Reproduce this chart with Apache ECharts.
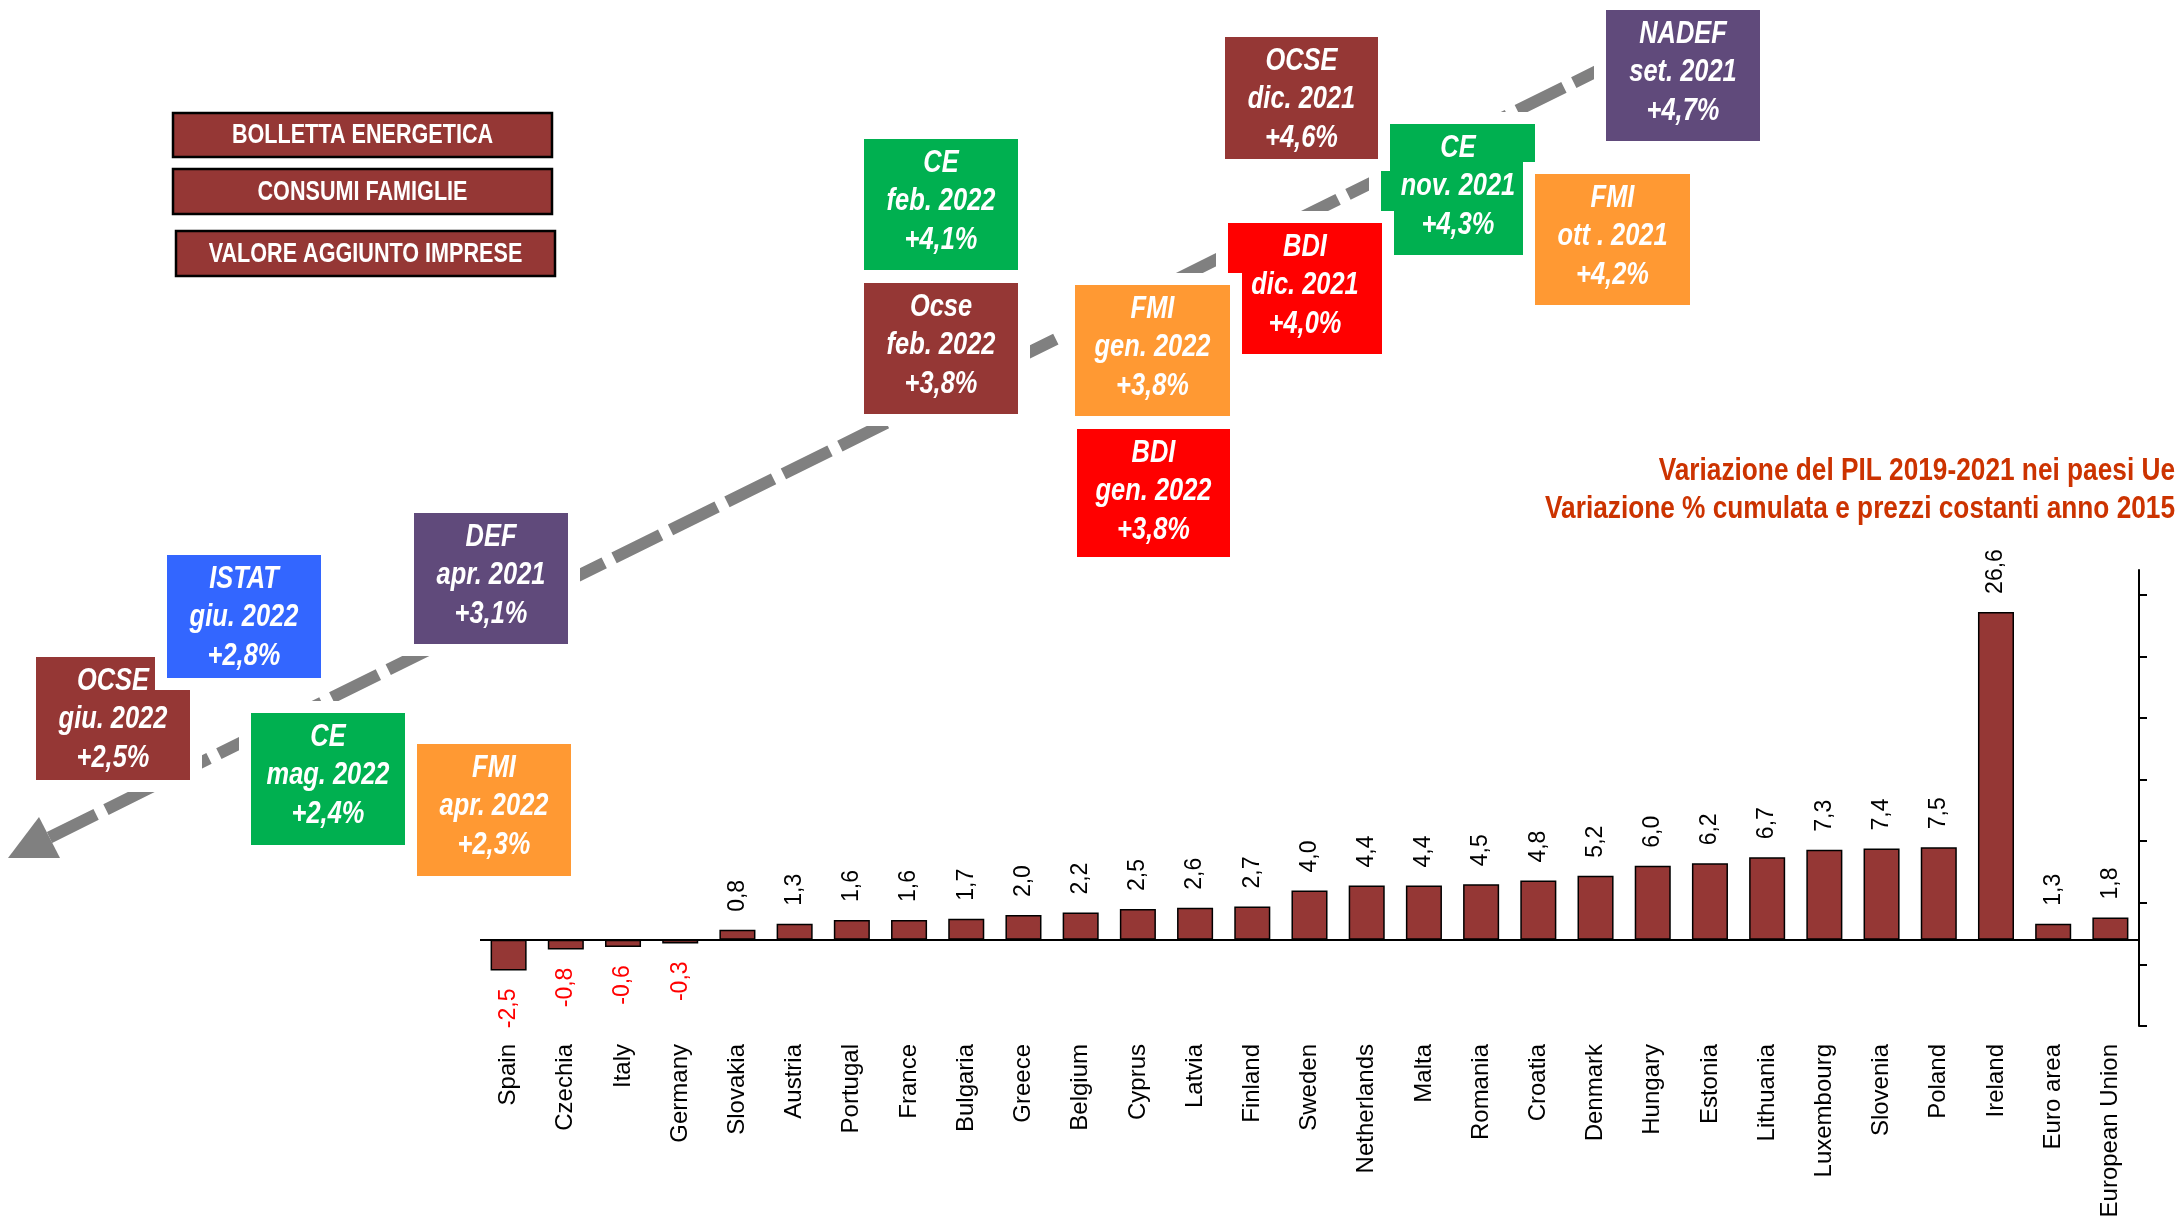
<!DOCTYPE html>
<html>
<head>
<meta charset="utf-8">
<title>Variazione del PIL 2019-2021 nei paesi Ue</title>
<script src="https://cdn.jsdelivr.net/npm/echarts@6/dist/echarts.min.js"></script>
<style>
    html, body { margin: 0; padding: 0; background: #ffffff; }
    #chart { width: 2179px; height: 1221px; }
</style>
</head>
<body>
<div id="chart"></div>
<script>
// ============================================
// Dati
// ============================================
const countries = [
    'Spain', 'Czechia', 'Italy', 'Germany', 'Slovakia', 'Austria', 'Portugal', 'France',
    'Bulgaria', 'Greece', 'Belgium', 'Cyprus', 'Latvia', 'Finland', 'Sweden', 'Netherlands',
    'Malta', 'Romania', 'Croatia', 'Denmark', 'Hungary', 'Estonia', 'Lithuania', 'Luxembourg',
    'Slovenia', 'Poland', 'Ireland', 'Euro area', 'European Union'
];
const gdpChange = [
    -2.5, -0.8, -0.6, -0.3, 0.8, 1.3, 1.6, 1.6,
    1.7, 2.0, 2.2, 2.5, 2.6, 2.7, 4.0, 4.4,
    4.4, 4.5, 4.8, 5.2, 6.0, 6.2, 6.7, 7.3,
    7.4, 7.5, 26.6, 1.3, 1.8
];
// tacche dell'asse di destra (senza etichette)
const rightTicks = [-7, -2, 3, 8, 13, 18, 23, 28];

const titleLines = [
    'Variazione del PIL 2019-2021 nei paesi Ue',
    'Variazione % cumulata e prezzi costanti anno 2015'
];
const legendLabels = ['BOLLETTA ENERGETICA', 'CONSUMI FAMIGLIE', 'VALORE AGGIUNTO IMPRESE'];

// previsioni di crescita (in ordine di disegno)
const fcSources = ['OCSE', 'ISTAT', 'CE', 'FMI', 'DEF', 'CE', 'Ocse', 'CE', 'BDI', 'FMI', 'BDI', 'OCSE', 'FMI', 'NADEF'];
const fcDates = ['giu. 2022', 'giu. 2022', 'mag. 2022', 'apr. 2022', 'apr. 2021', 'feb. 2022', 'feb. 2022',
    'nov. 2021', 'dic. 2021', 'gen. 2022', 'gen. 2022', 'dic. 2021', 'ott . 2021', 'set. 2021'];
const fcValues = [2.5, 2.8, 2.4, 2.3, 3.1, 4.1, 3.8, 4.3, 4.0, 3.8, 3.8, 4.6, 4.2, 4.7];

// ============================================
// Layout e stili
// ============================================
const BROWN = '#953735', BLUE = '#3366FF', GREEN = '#00B050', ORANGE = '#FF9933', RED = '#FF0000', PURPLE = '#604A7B';
const fcColors = [BROWN, BLUE, GREEN, ORANGE, PURPLE, GREEN, BROWN, GREEN, RED, ORANGE, RED, BROWN, ORANGE, PURPLE];
const fcBoxes = [
    [36, 657, 154, 123], [167, 555, 154, 123], [251, 713, 154, 132], [417, 744, 154, 132],
    [414, 513, 154, 131], [864, 139, 154, 131], [864, 283, 154, 131], [1381, 124, 154, 131],
    [1228, 223, 154, 131], [1075, 285, 155, 131], [1077, 429, 153, 128], [1225, 37, 153, 122],
    [1535, 174, 155, 131], [1606, 10, 154, 131]
];
const legendBoxes = [[173, 113, 379, 44], [173, 169, 379, 45], [176, 231, 379, 45]];
const FONT = "'Liberation Sans', Arial, sans-serif";
const NARROW = 0.82;   // simula Arial Narrow

// se c'è la versione Narrow la usiamo per le etichette degli assi
function hasFont(name) {
    const ctx = document.createElement('canvas').getContext('2d');
    const probe = 'European Union 26,6';
    ctx.font = '40px monospace';
    const a = ctx.measureText(probe).width;
    ctx.font = `40px '${name}', monospace`;
    return ctx.measureText(probe).width !== a;
}
const narrowOK = hasFont('Liberation Sans Narrow');
const axisFont = narrowOK
    ? { family: "'Liberation Sans Narrow', " + FONT, cat: 29, val: 28 }
    : { family: FONT, cat: 24, val: 23 };

function fmt(v) {
    return v.toFixed(1).replace('.', ',');
}

// ============================================
// Elementi grafici (freccia, riquadri, titolo)
// ============================================
const graphics = [];
let zi = 10;

function addText(text, x, y, opts) {
    graphics.push({
        type: 'text', x: x, y: y, z: zi++,
        scaleX: opts.scaleX || NARROW,
        style: {
            text: text,
            fill: opts.color || '#ffffff',
            font: opts.font,
            align: opts.align || 'center', textAlign: opts.align || 'center',
            verticalAlign: 'middle', textVerticalAlign: 'middle'
        }
    });
}

// freccia tratteggiata
graphics.push({
    type: 'line', z: 5,
    shape: { x1: 49.5, y1: 837.5, x2: 1700, y2: 20 },
    style: { stroke: '#808080', lineWidth: 12, lineDash: [52, 11], lineCap: 'butt' }
});
graphics.push({
    type: 'polygon', z: 5,
    shape: { points: [[8, 858], [60, 858], [39, 817]] },
    style: { fill: '#808080' }
});

// riquadri previsioni: margine bianco + box colorato + tre righe
fcBoxes.forEach((b, i) => {
    const [x, y, w, h] = b;
    graphics.push({
        type: 'rect', z: zi++,
        shape: { x: x - 12, y: y - 12, width: w + 24, height: h + 24 },
        style: { fill: '#ffffff' }
    });
    graphics.push({
        type: 'rect', z: zi++,
        shape: { x: x, y: y, width: w, height: h },
        style: { fill: fcColors[i] }
    });
    const cx = x + w / 2, cy = y + 62.5;
    const f = `italic bold 31px ${FONT}`;
    addText(fcSources[i], cx, cy - 38.5, { font: f });
    addText(fcDates[i], cx, cy, { font: f });
    addText('+' + fmt(fcValues[i]) + '%', cx, cy + 38.5, { font: f });
});

// riquadri legenda
legendBoxes.forEach((b, i) => {
    const [x, y, w, h] = b;
    graphics.push({
        type: 'rect', z: zi++,
        shape: { x: x, y: y, width: w, height: h },
        style: { fill: BROWN, stroke: '#000000', lineWidth: 2.5 }
    });
    addText(legendLabels[i], x + w / 2, y + h / 2 + 1, { font: `bold 27px ${FONT}`, scaleX: 0.8 });
});

// titolo
titleLines.forEach((t, i) => {
    addText(t, 2175, 471 + i * 38.5, { font: `bold 32px ${FONT}`, color: '#CC3300', align: 'right' });
});

// ============================================
// Grafico a barre
// ============================================
const barData = gdpChange.map(v => {
    if (v < 0) {
        return { value: v, label: { position: 'bottom', align: 'right', color: '#FF0000' } };
    }
    return { value: v, label: { position: 'top', align: 'left', color: '#000000' } };
});

const chart = echarts.init(document.getElementById('chart'), null, { renderer: 'canvas' });
const option = {
    animation: false,
    backgroundColor: '#ffffff',
    grid: { left: 480, right: 40, top: 570, height: 456, containLabel: false },
    xAxis: {
        type: 'category',
        data: countries,
        axisLine: { show: false, onZero: false },
        axisTick: { show: false },
        axisLabel: {
            interval: 0,
            rotate: 90,
            margin: 18,
            color: '#000000',
            fontSize: axisFont.cat,
            fontFamily: axisFont.family
        }
    },
    yAxis: {
        type: 'value',
        position: 'right',
        min: -7,
        max: 30,
        axisLine: { show: true, lineStyle: { color: '#000000', width: 2 } },
        axisTick: { show: true, inside: false, length: 8, customValues: rightTicks, lineStyle: { color: '#000000', width: 2 } },
        axisLabel: { show: false },
        splitLine: { show: false }
    },
    series: [{
        type: 'bar',
        data: barData,
        barWidth: '63%',
        itemStyle: { color: BROWN, borderColor: '#000000', borderWidth: 1.5 },
        label: {
            show: true,
            rotate: 90,
            distance: 18,
            verticalAlign: 'middle',
            fontSize: axisFont.val,
            fontFamily: axisFont.family,
            formatter: p => fmt(p.value)
        },
        markLine: {
            silent: true,
            symbol: 'none',
            label: { show: false },
            lineStyle: { color: '#000000', width: 2, type: 'solid' },
            data: [{ yAxis: 0 }]
        }
    }],
    graphic: { elements: graphics }
};
chart.setOption(option);
</script>
</body>
</html>
